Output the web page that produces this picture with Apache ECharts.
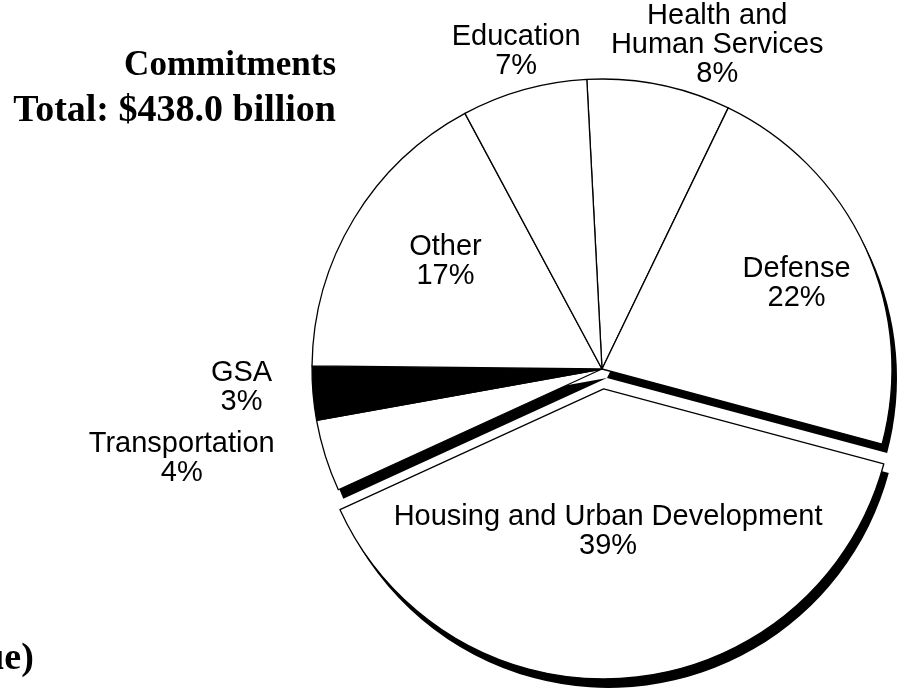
<!DOCTYPE html>
<html>
<head>
<meta charset="utf-8">
<script src="https://cdn.jsdelivr.net/npm/echarts@6/dist/echarts.min.js"></script>
<style>
  html, body { margin: 0; padding: 0; background: #fff; }
  #app { width: 920px; height: 688px; }
</style>
</head>
<body>
<div id="app"></div>
<script>
// slices, clockwise from the top
var categories = ['Health and\nHuman Services', 'Defense', 'Housing and Urban Development',
    'Transportation', 'GSA', 'Other', 'Education'];
var shares = [8, 22, 39, 4, 3, 17, 7];

var titleLines = ['Commitments', 'Total: $438.0 billion'];

// label nudges (px) from the default inside position
var labelNudge = [[86, -179], [60, -24], [-8, -5], [-279, 45], [-213, 6], [-30, -31], [-46, -175]];
var shadowed = ['Defense', 'Housing and Urban Development', 'Transportation'];
var exploded = 'Housing and Urban Development';

var pieCenter = [602, 369];
var shadowShift = [5, 9];

var myEchart = echarts.init(document.getElementById('app'));

function buildData(front) {
    return categories.map(function (name, i) {
        var color;
        if (front) {
            color = name === 'GSA' ? '#000' : '#fff';
        } else {
            color = shadowed.indexOf(name) >= 0 ? '#000' : 'rgba(0,0,0,0)';
        }
        return {
            name: name,
            value: shares[i],
            selected: name === exploded,
            itemStyle: { color: color }
        };
    });
}

var pieBase = {
    type: 'pie',
    radius: 290,
    startAngle: 93,
    selectedMode: 'single',
    selectedOffset: 20,
    emphasis: { disabled: true },
    silent: true
};

// title, right-aligned line by line
var titleSizes = [35, 38];
var titleGraphics = titleLines.map(function (line, i) {
    return {
        type: 'text',
        right: 584,
        top: i === 0 ? 48 : 92,
        style: {
            text: line,
            font: 'bold ' + titleSizes[i] + 'px "Liberation Serif"',
            fill: '#000'
        }
    };
});

myEchart.setOption({
    animation: false,
    backgroundColor: '#fff',
    graphic: titleGraphics.concat([{
        type: 'text',
        left: -78,
        top: 640,
        style: {
            text: '(value)',
            font: 'bold 38px "Liberation Serif"',
            fill: '#000'
        }
    }]),
    series: [
        // drop shadow: same pie moved down-right, drawn first
        echarts.util.extend({
            center: [pieCenter[0] + shadowShift[0], pieCenter[1] + shadowShift[1]],
            itemStyle: { borderWidth: 0 },
            label: { show: false },
            labelLine: { show: false },
            data: buildData(false)
        }, pieBase),
        echarts.util.extend({
            center: pieCenter,
            itemStyle: {
                borderColor: '#000',
                borderWidth: 1.3
            },
            label: {
                position: 'inside',
                formatter: function (p) { return p.name + '\n' + p.value + '%'; },
                fontFamily: 'Liberation Sans',
                fontSize: 29,
                lineHeight: 29,
                color: '#000',
                align: 'center'
            },
            labelLine: { show: false },
            labelLayout: function (p) {
                var n = labelNudge[p.dataIndex];
                return { dx: n[0], dy: n[1] };
            },
            data: buildData(true)
        }, pieBase)
    ]
});
</script>
</body>
</html>
